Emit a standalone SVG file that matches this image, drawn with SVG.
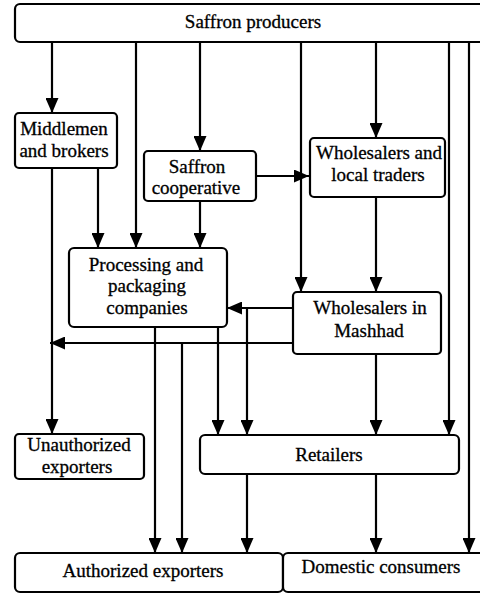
<svg xmlns="http://www.w3.org/2000/svg" width="480" height="594" viewBox="0 0 480 594">
<defs>
<style>
.box{fill:#fff;stroke:#000;stroke-width:2.2}
.t{font-size:19px;fill:#000;stroke:#000;stroke-width:0.3;text-anchor:middle}
.c line{stroke:#000;stroke-width:2.2;fill:none}
.a{marker-end:url(#ah)}
</style>
<marker id="ah" viewBox="0 0 15 13" refX="15" refY="6.5" markerWidth="15" markerHeight="13" markerUnits="userSpaceOnUse" orient="auto">
<path d="M0,0 L15,6.5 L0,13 z" fill="#000"/>
</marker>
</defs>
<rect width="480" height="594" fill="#fff"/>
<g class="c" id="connectors">
<line class="a" x1="52" y1="42" x2="52" y2="113"/>
<line class="a" x1="136" y1="42" x2="136" y2="248"/>
<line class="a" x1="200" y1="42" x2="200" y2="151"/>
<line class="a" x1="301" y1="42" x2="301" y2="292"/>
<line class="a" x1="376" y1="42" x2="376" y2="138"/>
<line class="a" x1="449" y1="42" x2="449" y2="435"/>
<line class="a" x1="469" y1="42" x2="469" y2="553"/>
<line class="a" x1="52" y1="168" x2="52" y2="434"/>
<line class="a" x1="98" y1="168" x2="98" y2="248"/>
<line class="a" x1="200" y1="201" x2="200" y2="248"/>
<line class="a" x1="256" y1="176" x2="309" y2="176"/>
<line class="a" x1="376" y1="197" x2="376" y2="292"/>
<line class="a" x1="293" y1="308" x2="227" y2="308"/>
<line class="a" x1="247" y1="308" x2="247" y2="435"/>
<line class="a" x1="293" y1="343" x2="50" y2="343"/>
<line class="a" x1="182" y1="343" x2="182" y2="553"/>
<line class="a" x1="155" y1="327" x2="155" y2="553"/>
<line class="a" x1="218" y1="327" x2="218" y2="435"/>
<line class="a" x1="376" y1="354" x2="376" y2="435"/>
<line class="a" x1="247" y1="474" x2="247" y2="553"/>
<line class="a" x1="376" y1="474" x2="376" y2="553"/>
</g>
<g font-family="Liberation Serif, Tinos, Times New Roman, serif">
<g id="producers">
<rect class="box" x="15" y="4" width="470" height="38" rx="5"/>
<text class="t" x="253" y="28">Saffron producers</text>
</g>
<g id="middlemen">
<rect class="box" x="15" y="113" width="102" height="55" rx="4"/>
<text class="t" x="64" y="135">Middlemen</text>
<text class="t" x="64" y="157">and brokers</text>
</g>
<g id="cooperative">
<rect class="box" x="144" y="151" width="112" height="50" rx="4"/>
<text class="t" x="197" y="173">Saffron</text>
<text class="t" x="196" y="194">cooperative</text>
</g>
<g id="wholesalers-local">
<rect class="box" x="310" y="138" width="135" height="59" rx="4"/>
<text class="t" x="379" y="159">Wholesalers and</text>
<text class="t" x="378" y="181">local traders</text>
</g>
<g id="processing">
<rect class="box" x="69" y="248" width="158" height="79" rx="5"/>
<text class="t" x="146" y="271">Processing and</text>
<text class="t" x="147" y="292">packaging</text>
<text class="t" x="147" y="314">companies</text>
</g>
<g id="mashhad">
<rect class="box" x="293" y="292" width="148" height="62" rx="4"/>
<text class="t" x="370" y="314">Wholesalers in</text>
<text class="t" x="369" y="337">Mashhad</text>
</g>
<g id="unauthorized">
<rect class="box" x="15" y="434" width="129" height="45" rx="4"/>
<text class="t" x="79" y="451">Unauthorized</text>
<text class="t" x="77" y="473">exporters</text>
</g>
<g id="retailers">
<rect class="box" x="200" y="435" width="259" height="39" rx="5"/>
<text class="t" x="329" y="461">Retailers</text>
</g>
<g id="authorized">
<rect class="box" x="15" y="553" width="268" height="39" rx="5"/>
<text class="t" x="143" y="577">Authorized exporters</text>
</g>
<g id="domestic">
<rect class="box" x="283" y="553" width="202" height="39" rx="5"/>
<text class="t" x="381" y="573">Domestic consumers</text>
</g>
</g>
</svg>
